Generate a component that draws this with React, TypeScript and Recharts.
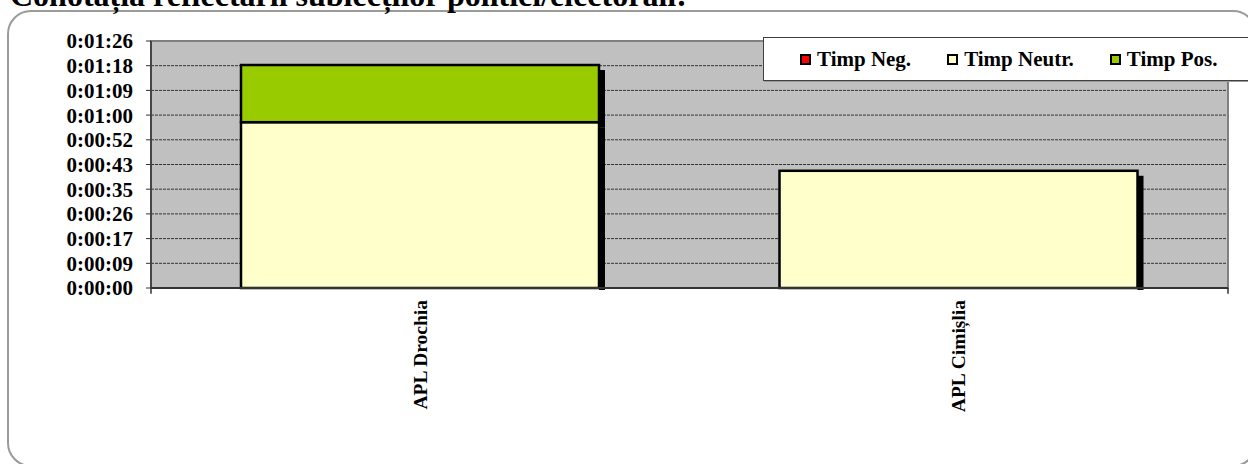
import { BarChart, Bar, XAxis, YAxis, CartesianGrid, ReferenceArea, ReferenceLine } from "recharts"

const CATEGORIES = ["APL Drochia", "APL Cimișlia"]
const TIMP_NEG = [0, 0]
const TIMP_NEUTR = [58, 41]
const TIMP_POS = [20, 0]

// Excel time axis: major unit 0.0001 day = 8.64 s
const Y_TICKS = [0, 8.64, 17.28, 25.92, 34.56, 43.2, 51.84, 60.48, 69.12, 77.76, 86.4]
const Y_TICK_LABELS = [
  "0:00:00", "0:00:09", "0:00:17", "0:00:26", "0:00:35", "0:00:43",
  "0:00:52", "0:01:00", "0:01:09", "0:01:18", "0:01:26",
]
// category boundaries, where Excel puts its x tick marks
const CATEGORY_EDGES = [0, 1, 2]

const SERIES = [
  { key: "neg", label: "Timp Neg.", fill: "#ff0000", values: TIMP_NEG },
  { key: "neutr", label: "Timp Neutr.", fill: "#ffffcc", values: TIMP_NEUTR },
  { key: "pos", label: "Timp Pos.", fill: "#99cc00", values: TIMP_POS },
]

const data = CATEGORIES.map((name, i) => {
  const row: { [k: string]: string | number } = { name }
  SERIES.forEach((s) => (row[s.key] = s.values[i]))
  return row
})

const FONT = '"Liberation Serif", "Times New Roman", serif'

// bar with the Excel-style black drop shadow on the right
const ShadowBar = (props: any) => {
  const { x, y, width, height, fill, isBase } = props
  if (!height || height <= 0) return <g />
  return (
    <g>
      <rect
        x={x + width}
        y={y + 5}
        width={6}
        height={isBase ? height - 3 : height}
        fill="#000"
      />
      <rect x={x} y={y} width={width} height={height} fill={fill} stroke="#000" strokeWidth={2.5} />
    </g>
  )
}

const CategoryTick = ({ x, y, payload }: any) => (
  <text
    x={x}
    y={y}
    transform={`rotate(-90, ${x}, ${y})`}
    textAnchor="end"
    dominantBaseline="central"
    fontSize={19.5}
    fontWeight={700}
    fill="#000"
  >
    {payload.value}
  </text>
)

export default function App() {
  return (
    <div
      style={{
        position: "absolute",
        left: 0,
        top: 0,
        width: 1248,
        height: 464,
        overflow: "hidden",
        background: "#fff",
        fontFamily: FONT,
      }}
    >
      {/* rounded chart frame */}
      <div
        style={{
          position: "absolute",
          left: 7,
          top: 10,
          width: 1250,
          height: 457,
          boxSizing: "border-box",
          border: "2px solid #9a9a9a",
          borderRadius: 24,
        }}
      />

      <div style={{ position: "absolute", left: 0, top: 0 }}>
        <BarChart
          width={1248}
          height={464}
          data={data}
          margin={{ top: 41, right: 20, bottom: 0, left: 0 }}
          barSize={358}
        >
          <CartesianGrid
            vertical={false}
            fill="#c0c0c0"
            stroke="#333"
            strokeDasharray="3 1"
          />
          <XAxis
            dataKey="name"
            height={176}
            axisLine={{ stroke: "#333", strokeWidth: 2 }}
            tickLine={false}
            tickSize={0}
            tickMargin={12}
            tick={<CategoryTick />}
            interval={0}
          />
          <XAxis xAxisId="edges" type="number" domain={[0, 2]} hide />
          <YAxis
            width={151}
            domain={[0, 86.4]}
            ticks={Y_TICKS}
            tickFormatter={(_v: number, i: number) => Y_TICK_LABELS[i]}
            axisLine={{ stroke: "#333", strokeWidth: 1.5 }}
            tickLine={{ stroke: "#333" }}
            tickSize={5}
            tickMargin={13}
            tick={{ fill: "#000", fontSize: 21, fontWeight: 700 }}
            interval={0}
          />
          <ReferenceArea
            y1={0}
            y2={86.4}
            fill="none"
            stroke="#808080"
            strokeWidth={2}
            ifOverflow="visible"
          />
          {CATEGORY_EDGES.map((e) => (
            <ReferenceLine
              key={e}
              xAxisId="edges"
              segment={[{ x: e, y: 0 }, { x: e, y: -2 }]}
              stroke="#333"
              strokeWidth={1.5}
              ifOverflow="visible"
            />
          ))}
          {SERIES.map((s) => (
            <Bar
              key={s.key}
              dataKey={s.key}
              name={s.label}
              stackId="t"
              fill={s.fill}
              shape={<ShadowBar isBase={s.key === "neutr"} />}
              isAnimationActive={false}
            />
          ))}
        </BarChart>
      </div>

      {/* title, clipped at the top edge like the source */}
      <div
        style={{
          position: "absolute",
          left: 10,
          top: -21,
          fontSize: 32,
          lineHeight: "32px",
          fontWeight: 700,
          whiteSpace: "nowrap",
          color: "#000",
        }}
      >
        Conotația reflectării subiecților politici/electorali:
      </div>

      {/* legend */}
      <div
        style={{
          position: "absolute",
          left: 763,
          top: 37,
          width: 500,
          height: 44,
          boxSizing: "border-box",
          background: "#fff",
          border: "1px solid #404040",
          boxShadow: "1px 1px 0 #9a9a9a",
          display: "flex",
          alignItems: "center",
          paddingLeft: 36,
          fontSize: 21,
          fontWeight: 700,
        }}
      >
        {SERIES.map((s) => (
          <div key={s.key} style={{ display: "flex", alignItems: "center", marginRight: 36 }}>
            <span
              style={{
                display: "inline-block",
                width: 11,
                height: 11,
                boxSizing: "border-box",
                background: s.fill,
                border: "2px solid #000",
                marginRight: 6,
              }}
            />
            <span>{s.label}</span>
          </div>
        ))}
      </div>
    </div>
  )
}
